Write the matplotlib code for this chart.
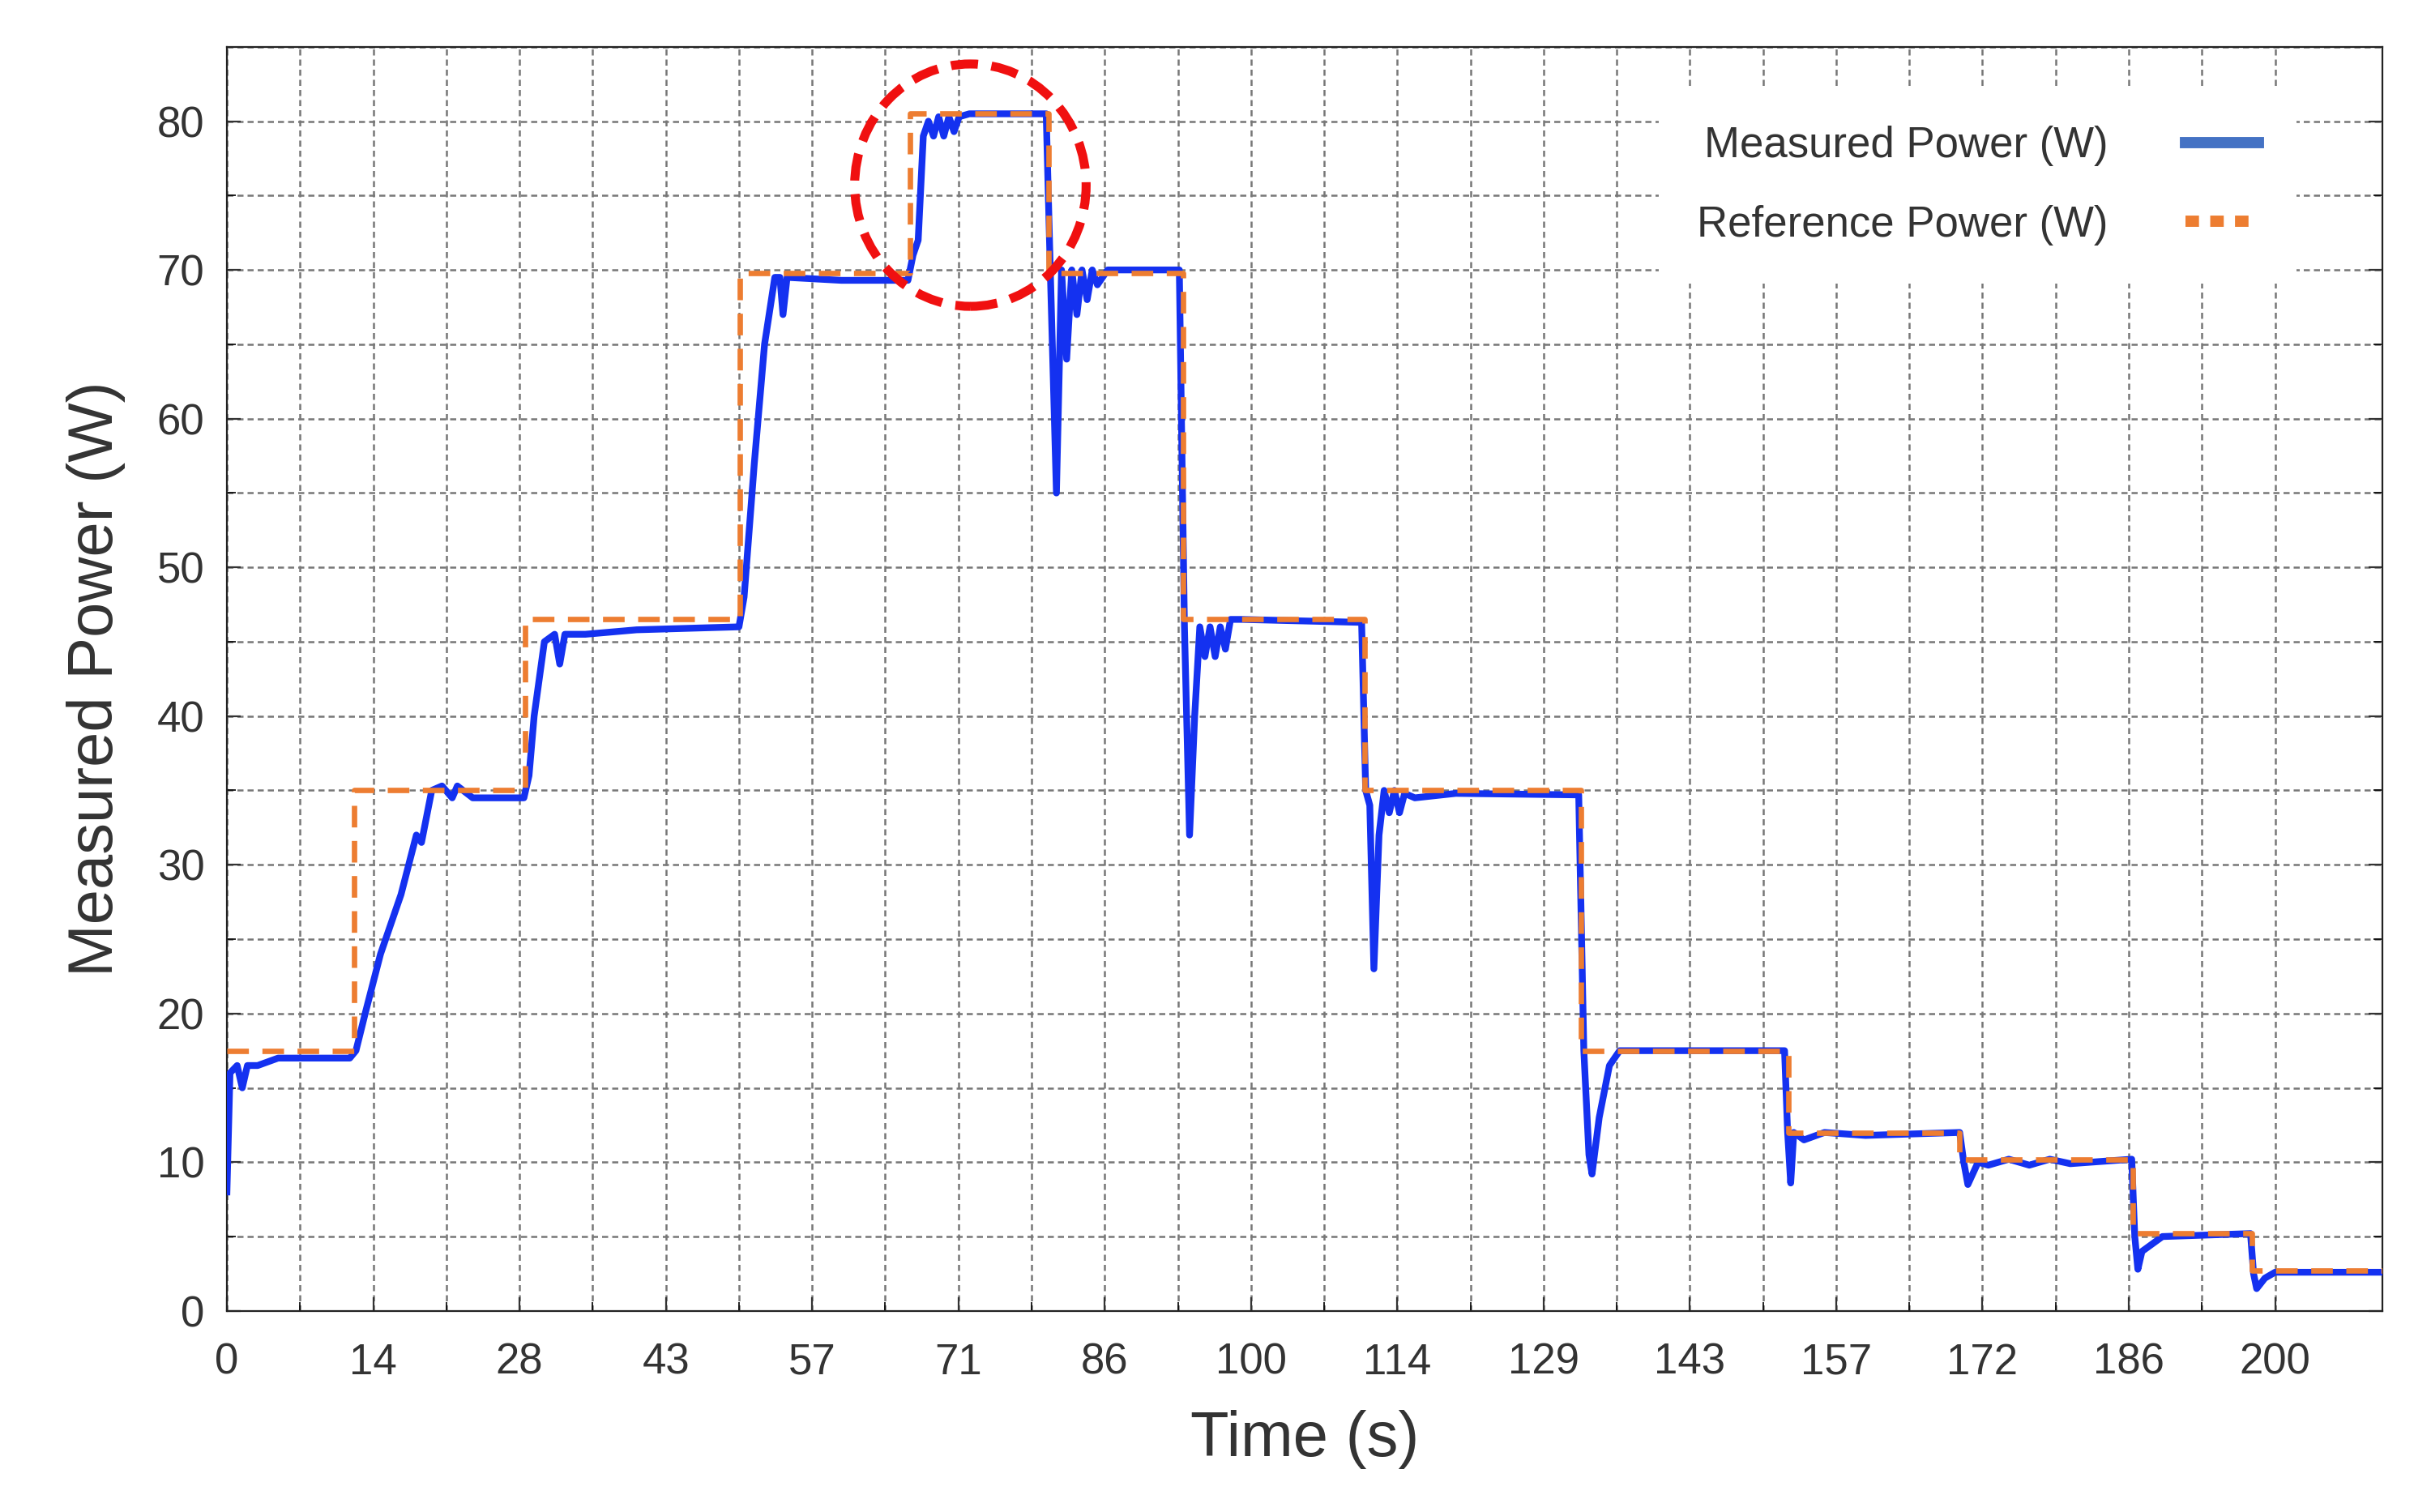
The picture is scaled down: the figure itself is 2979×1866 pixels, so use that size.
import numpy as np
import matplotlib
matplotlib.use('Agg')
import matplotlib.pyplot as plt
from matplotlib.lines import Line2D
from matplotlib.patches import Ellipse

plt.rcParams['font.family'] = ['Liberation Sans', 'DejaVu Sans']

# reference power steps (W) and their switch times (s)
ref_times = [0, 12.4, 29.1, 50.1, 66.7, 80.2, 93.4, 111.1, 132.2, 152.5, 169.2, 186.1, 197.7, 210.5]
ref_power = [17.5, 35.0, 46.5, 69.8, 80.5, 69.8, 46.5, 35.0, 17.5, 12.0, 10.2, 5.2, 2.7, 2.7]

# measured power
meas_t = [0, 0.3, 1, 1.5, 2, 3, 5, 12, 12.6, 13.5, 15, 17, 18.5, 19, 20, 21, 22, 22.5, 24, 29,
          29.5, 30, 31, 32, 32.5, 33, 35, 40, 50, 50.5, 51.5, 52.5, 53.5, 54, 54.3, 54.7, 60, 66.5,
          67, 67.5, 68, 68.5, 69, 69.5, 70, 70.5, 71, 71.5, 72.5, 80, 80.4, 81, 81.5, 82, 82.5,
          83, 83.5, 84, 84.5, 85, 86, 93, 93.5, 94, 94.5, 95, 95.5, 96, 96.5, 97, 97.5, 98, 99,
          110.8, 111.2, 111.6, 112, 112.5, 113, 113.5, 114, 114.5, 115, 116, 120, 132, 132.5,
          133, 133.3, 134, 135, 136, 143, 152.1, 152.4, 152.7, 153, 154, 156, 160, 169.2, 169.6,
          170, 171, 172, 174, 176, 178, 180, 186, 186.3, 186.6, 187, 189, 197.6, 197.9, 198.2,
          199, 200, 210.5]
meas_p = [8, 16, 16.5, 15, 16.5, 16.5, 17, 17, 17.5, 20, 24, 28, 32, 31.5, 35, 35.3, 34.5, 35.3,
          34.5, 34.5, 36, 40, 45, 45.5, 43.5, 45.5, 45.5, 45.8, 46, 48, 57, 65, 69.5, 69.5, 67,
          69.5, 69.3, 69.3, 71, 72, 79, 80, 79, 80.3, 79, 80.3, 79.3, 80.3, 80.5, 80.5, 70, 55,
          70, 64, 70, 67, 70, 68, 70, 69, 70, 70, 46, 32, 40, 46, 44, 46, 44, 46, 44.5, 46.5,
          46.5, 46.3, 35, 34, 23, 32, 35, 33.5, 35, 33.5, 34.8, 34.5, 34.8, 34.7, 17.5, 10.5,
          9.2, 13, 16.5, 17.5, 17.5, 17.5, 12, 8.6, 12, 11.5, 12, 11.8, 12, 10, 8.5, 10, 9.8,
          10.2, 9.8, 10.2, 9.9, 10.2, 5, 2.8, 4, 5, 5.2, 2.5, 1.5, 2.2, 2.6, 2.6]

tick_pos = np.linspace(0, 200, 15)
tick_lbl = ['0', '14', '28', '43', '57', '71', '86', '100', '114', '129', '143', '157', '172', '186', '200']

blue = '#1431f0'
orange = '#ed7d31'

fig = plt.figure(figsize=(14.895, 9.33), dpi=200)
ax = fig.add_axes([0.094, 0.133, 0.893, 0.836])

ax.plot(meas_t, meas_p, color=blue, lw=3.0, zorder=3)
ax.step(ref_times, ref_power, where='post', color=orange, lw=2.4, ls=(0, (4, 2.5)), zorder=4)

# highlight of the peak step
ax.add_patch(Ellipse((72.6, 75.7), 22.6, 16.3, fill=False, ec='#f01010', lw=4,
                     ls=(0, (3, 1.5)), zorder=5))

ax.set_xlim(0, 210.5)
ax.set_ylim(0, 85)
ax.set_xticks(tick_pos)
ax.set_xticklabels(tick_lbl)
ax.set_xticks(tick_pos[:-1] + 200 / 28, minor=True)
ax.set_yticks(np.arange(0, 81, 10))
ax.set_yticks(np.arange(5, 86, 10), minor=True)
ax.grid(True, which='both', color='#777777', ls=(0, (3, 2)), lw=0.9)
ax.tick_params(axis='both', which='major', labelsize=19, colors='#333333', length=6, direction='in',
               top=False, right=True)
ax.tick_params(axis='both', which='minor', length=4, direction='in', right=True)
ax.tick_params(axis='x', pad=14)
ax.tick_params(axis='y', pad=10)
for s in ax.spines.values():
    s.set_color('#222222')

ax.set_xlabel('Time (s)', fontsize=28, color='#333333', labelpad=12)
ax.set_ylabel('Measured Power (W)', fontsize=28, color='#333333', labelpad=14)

handles = [Line2D([], [], color='#4472c4', lw=5),
           Line2D([], [], color=orange, lw=5, ls=(0, (1.2, 1)))]
leg = ax.legend(handles, ['Measured Power (W)', 'Reference Power (W)'], loc='upper right',
                bbox_to_anchor=(0.97, 0.985), fontsize=19, markerfirst=False, frameon=True,
                fancybox=False, edgecolor='none', framealpha=1, handlelength=1.7,
                labelspacing=0.9, borderpad=0.9, handletextpad=1.8)
for t in leg.get_texts():
    t.set_color('#333333')
leg.set_zorder(6)

fig.savefig('out.png', dpi=200)
